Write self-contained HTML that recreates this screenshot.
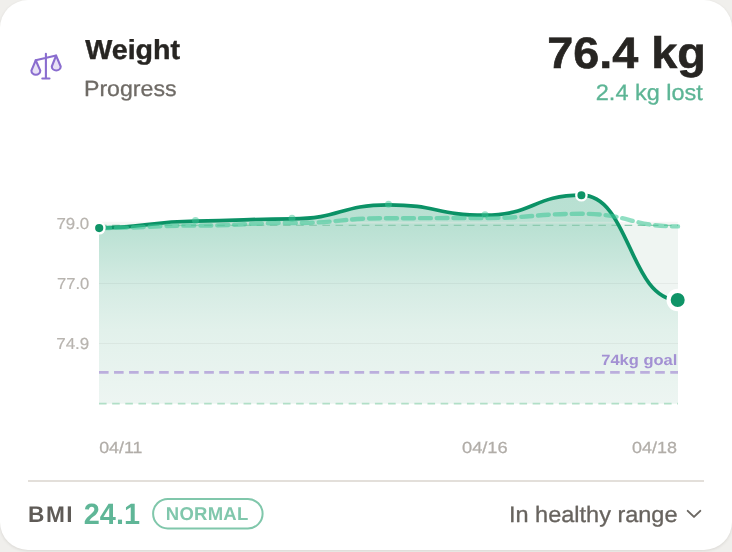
<!DOCTYPE html>
<html><head><meta charset="utf-8"><title>Weight Progress</title>
<style>
html,body{margin:0;padding:0;}
body{width:732px;height:552px;overflow:hidden;background:#f0efec;position:relative;font-family:"Liberation Sans",Arial,sans-serif;}
.card{position:absolute;left:0;top:0;width:732px;height:550px;background:#fff;border-radius:28px;box-shadow:0 1px 3px rgba(60,50,40,0.12);}
svg{position:absolute;left:0;top:0;}
text{font-family:"Liberation Sans",Arial,sans-serif;text-rendering:geometricPrecision;}
</style></head>
<body>
<div class="card"></div>
<svg width="732" height="552" viewBox="0 0 732 552">
  <defs>
    <linearGradient id="g" x1="0" y1="195" x2="0" y2="403.5" gradientUnits="userSpaceOnUse">
      <stop offset="0" stop-color="#b8e0d2"/>
      <stop offset="0.158" stop-color="#bae1d3"/>
      <stop offset="0.456" stop-color="#d6ece4"/>
      <stop offset="0.648" stop-color="#e2f1eb"/>
      <stop offset="1" stop-color="#edf5f2"/>
    </linearGradient>
  </defs>
  <!-- header -->
  <g fill="none" stroke="#8a6dcf" stroke-width="2.1" stroke-linecap="round" stroke-linejoin="round">
    <path d="M45.9,53.7V78.5M42.3,78.5H49.5M35.7,60.3L56.1,55.6"/>
    <path d="M35.7,60.3L31.4,70.6A4.45,4.2 0 0 0 40.3,70.6Z" fill="#e8e2f5"/>
    <path d="M56.1,55.6L51.8,66.5A4.45,4 0 0 0 60.7,66.5Z" fill="#e8e2f5"/>
  </g>
  <text x="85.2" y="59" textLength="94.97" lengthAdjust="spacingAndGlyphs" font-size="27.5" font-weight="700" fill="#272522" stroke="#272522" stroke-width="0.4">Weight</text>
  <text x="84.0" y="96.0" textLength="92.52" lengthAdjust="spacingAndGlyphs" font-size="22" fill="#6f6b66" stroke="#6f6b66" stroke-width="0.3">Progress</text>
  <text x="547.2" y="67.5" textLength="158.65" lengthAdjust="spacingAndGlyphs" font-size="44" font-weight="700" fill="#272522" stroke="#272522" stroke-width="0.6">76.4 kg</text>
  <text x="595.8" y="99.6" textLength="107.08" lengthAdjust="spacingAndGlyphs" font-size="22.3" fill="#5cb595" stroke="#5cb595" stroke-width="0.3">2.4 kg lost</text>

  <!-- chart -->
  <rect x="99" y="223.5" width="579" height="180" rx="2" fill="#eff5f2"/>
  <path d="M99.00,228.10C147.25,228.10 147.25,221.10 195.50,221.10C243.75,221.10 243.75,218.80 292.00,218.80C340.25,218.80 340.25,204.80 388.50,204.80C436.75,204.80 436.75,215.20 485.00,215.20C533.25,215.20 533.25,195.20 581.50,195.20C629.75,195.20 629.75,300.00 678.00,300.00L678,403.5L99,403.5Z" fill="url(#g)"/>
  <g stroke="#e4e1dc" stroke-width="1">
    <line x1="99" y1="222.6" x2="678" y2="222.6" stroke="#ece8e5" stroke-width="1.8" stroke-opacity="0.4"/>
    <line x1="99" y1="283.5" x2="678" y2="283.5" stroke="#000" stroke-opacity="0.042"/>
    <line x1="99" y1="343.5" x2="678" y2="343.5" stroke="#000" stroke-opacity="0.042"/>
  </g>
  <line x1="99" y1="225.4" x2="678" y2="225.4" stroke="#8dcbb0" stroke-width="1.2" stroke-dasharray="7.6 5.54"/>
  <line x1="99" y1="403.6" x2="678" y2="403.6" stroke="#b1dfc7" stroke-width="1.6" stroke-dasharray="7.6 5.54"/>
  <line x1="99" y1="372.3" x2="678" y2="372.3" stroke="#bbaedd" stroke-width="2.8" stroke-dasharray="9.6 5.433"/>
  <text x="601.2" y="365.1" textLength="76.23" lengthAdjust="spacingAndGlyphs" font-size="15" font-weight="700" fill="#a391d3">74kg goal</text>

  <path d="M99.00,228.10C147.25,228.10 147.25,221.10 195.50,221.10C243.75,221.10 243.75,218.80 292.00,218.80C340.25,218.80 340.25,204.80 388.50,204.80C436.75,204.80 436.75,215.20 485.00,215.20C533.25,215.20 533.25,195.20 581.50,195.20C629.75,195.20 629.75,300.00 678.00,300.00" fill="none" stroke="#0b9266" stroke-width="3.7" stroke-linecap="round"/>
  <path d="M99.00,228.00C147.25,228.00 147.25,225.60 195.50,225.60C243.75,225.60 243.75,223.00 292.00,223.00C340.25,223.00 340.25,218.20 388.50,218.20C436.75,218.20 436.75,218.00 485.00,218.00C533.25,218.00 533.25,213.80 581.50,213.80C629.75,213.80 629.75,226.40 678.00,226.40" fill="none" stroke="#40c898" stroke-opacity="0.58" stroke-width="4.4" stroke-linecap="round" stroke-dasharray="10.9 6"/>
  <g fill="#3dc696" fill-opacity="0.5">
    <circle cx="195.5" cy="220.6" r="3.5"/><circle cx="292" cy="218.3" r="3.5"/>
    <circle cx="388.5" cy="204.2" r="3.5"/><circle cx="485" cy="214.7" r="3.5"/>
  </g>
  <circle cx="99.2" cy="228.1" r="5.3" fill="#0f9467" stroke="#fff" stroke-width="2.4"/>
  <circle cx="581.4" cy="195.3" r="5.15" fill="#0f9467" stroke="#fff" stroke-width="2.3"/>
  <circle cx="677.7" cy="300" r="9.1" fill="#0f9467" stroke="#fff" stroke-width="4.2"/>

  <g font-size="16" fill="#b8b4af" stroke="#b8b4af" stroke-width="0.2">
    <text x="56.4" y="228.8" textLength="32.8" lengthAdjust="spacingAndGlyphs">79.0</text>
    <text x="57.0" y="288.8" textLength="32.2" lengthAdjust="spacingAndGlyphs">77.0</text>
    <text x="56.2" y="348.6" textLength="33.05" lengthAdjust="spacingAndGlyphs">74.9</text>
  </g>
  <g font-size="16" fill="#b1ada8" stroke="#b1ada8" stroke-width="0.25">
    <text x="99.2" y="452.5" textLength="43.17" lengthAdjust="spacingAndGlyphs">04/11</text>
    <text x="462.0" y="452.5" textLength="45.67" lengthAdjust="spacingAndGlyphs">04/16</text>
    <text x="632.0" y="452.5" textLength="44.86" lengthAdjust="spacingAndGlyphs">04/18</text>
  </g>

  <!-- footer -->
  <rect x="28" y="480" width="676" height="2" fill="#e3dfda"/>
  <text x="28.0" y="521.8" textLength="44.59" lengthAdjust="spacing" font-size="22.7" font-weight="700" fill="#5f5b57">BMI</text>
  <text x="83.8" y="523.8" textLength="56.21" lengthAdjust="spacingAndGlyphs" font-size="29.3" font-weight="700" fill="#5fb697">24.1</text>
  <rect x="153.1" y="499" width="109.5" height="29.4" rx="14.7" fill="none" stroke="#80c7ab" stroke-width="2"/>
  <text x="165.8" y="520" textLength="82.41" lengthAdjust="spacing" font-size="18.5" font-weight="700" fill="#80c7ac">NORMAL</text>
  <text x="509.0" y="522" textLength="168.52" lengthAdjust="spacingAndGlyphs" font-size="22.4" fill="#67635e" stroke="#67635e" stroke-width="0.3">In healthy range</text>
  <path d="M687.7,510.9L694,516.9L700.3,510.9" fill="none" stroke="#6c6863" stroke-width="2" stroke-linecap="round" stroke-linejoin="round"/>
</svg>
</body></html>
